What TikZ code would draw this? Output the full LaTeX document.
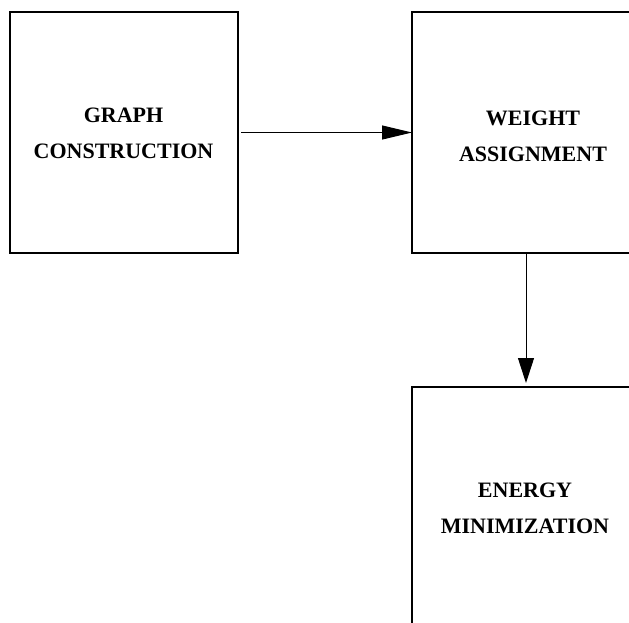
\documentclass[tikz,border=0pt]{standalone}
\usepackage{fontspec}
\setmainfont{Liberation Serif}
\usetikzlibrary{arrows.meta}
\begin{document}
\begin{tikzpicture}[x=1pt,y=-1pt,
  stagebox/.style={draw, line width=2pt, minimum width=228pt, minimum height=241pt, outer sep=0pt, inner sep=0pt},
  stagelabel/.style={font=\fontsize{22}{36}\selectfont\bfseries, align=center, inner sep=0pt},
  flow/.style={line width=1pt, -{Triangle[length=30pt,width=14pt]}},
  flowdown/.style={line width=1pt, -{Triangle[length=25pt,width=16pt]}}]
\useasboundingbox (0,0) rectangle (629,622);
\clip (0,0) rectangle (629,622);
\node[stagebox] (b1) at (124,132.5) {};
\node[stagebox] (b2) at (526,132.5) {};
\node[stagebox] (b3) at (526,507.5) {};
\node[stagelabel] (t1) at (123.5,133) {GRAPH\\CONSTRUCTION};
\node[stagelabel] (t2) at (533,136.5) {WEIGHT\\ASSIGNMENT};
\node[stagelabel] (t3) at (525,508) {ENERGY\\MINIMIZATION};
\coordinate (s1) at ([xshift=3pt]b1.east);
\coordinate (e2) at ([yshift=4pt]b3.north);
\draw[flow] (s1) -- (b2.west);
\draw[flowdown] (b2.south) -- (e2);
\end{tikzpicture}
\end{document}
